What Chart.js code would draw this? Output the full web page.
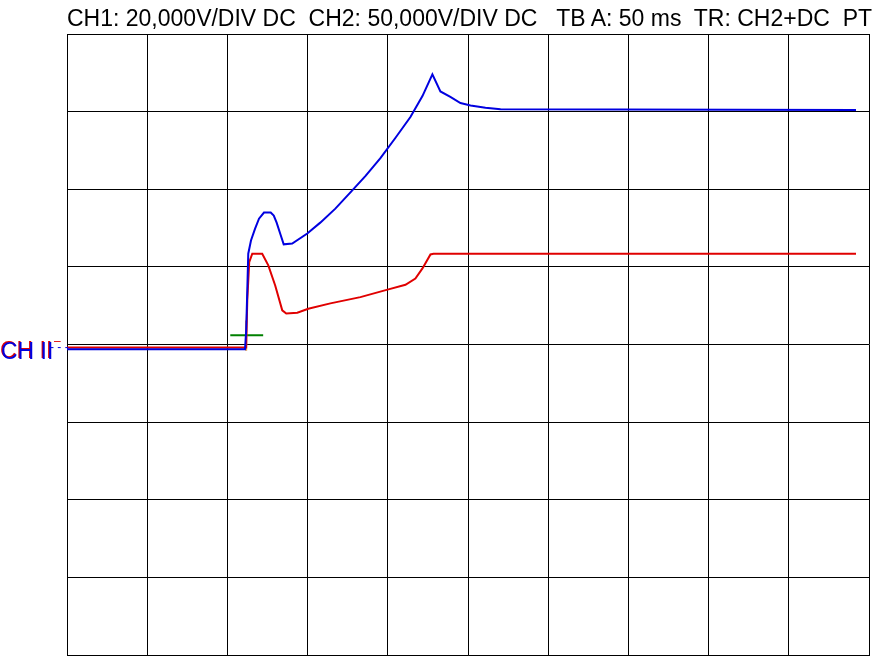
<!DOCTYPE html>
<html>
<head>
<meta charset="utf-8">
<script src="https://cdn.jsdelivr.net/npm/chart.js@4/dist/chart.umd.min.js"></script>
<style>
  body { margin: 0; background: #fff; }
  #wrap { position: relative; width: 877px; height: 663px; overflow: hidden; }
  #title { position: absolute; left: 67px; top: 5px; font: 23px "Liberation Sans", Arial, sans-serif;
           white-space: pre; color: #000; }
  .ch { position: absolute; left: 0; top: 337px; font: 23px "Liberation Sans Narrow", "Liberation Sans", sans-serif; white-space: pre; }
  .lv { position: absolute; font: 12px "Liberation Sans", sans-serif; white-space: pre; }
</style>
</head>
<body>
<div id="wrap">
  <canvas id="myChart" width="877" height="663"></canvas>
  <div id="title">CH1: 20,000V/DIV DC  CH2: 50,000V/DIV DC   TB A: 50 ms  TR: CH2+DC  PT</div>
  <div class="ch" style="color:#e00000">CH II</div>
  <div class="ch" style="color:#0000e0;left:1px;top:338px">CH II</div>
  <div class="lv" style="color:#e00000;left:54px;top:334px">–</div>
  <div class="lv" style="color:#0000e0;left:50px;top:340px">- - -</div>
</div>
<script>
// time in ms (50 ms/div), level in divisions
var blueT = [0, 111, 111.7, 112.4, 113, 114.7, 117.2, 119.7, 122.8, 127, 128.9, 130.7, 133.2, 135.1, 140.4, 149.8, 157.9, 167.3, 176.7, 186, 195.4, 204.7, 214.1, 221.6, 227.8, 232.8, 239, 245.3, 251.6, 260.9, 270.3, 491.9];
var blueV = [-0.06, -0.06, 0.18, 0.70, 1.17, 1.34, 1.49, 1.62, 1.70, 1.70, 1.66, 1.57, 1.41, 1.29, 1.30, 1.43, 1.57, 1.75, 1.96, 2.17, 2.40, 2.66, 2.93, 3.20, 3.48, 3.26, 3.19, 3.11, 3.08, 3.05, 3.03, 3.02];
var redT = [0, 111.7, 112.4, 113.6, 115.5, 121.7, 125.5, 129.8, 134.2, 136.7, 143.6, 150.4, 164.2, 182.9, 200.4, 211, 217.2, 221.6, 226.6, 228.5, 491.9];
var redV = [-0.04, -0.04, 0.57, 1.06, 1.17, 1.17, 1.02, 0.76, 0.44, 0.40, 0.41, 0.46, 0.53, 0.61, 0.71, 0.77, 0.85, 0.98, 1.16, 1.17, 1.17];
var trigT = [101.8, 122.3];
var trigV = [0.12, 0.12];
var markT = [111.7, 111.7];
var markV = [0.31, -0.08];

function pts(t, v) {
  return t.map(function (e, i) { return {x: e, y: v[i]}; });
}

var ctx = document.getElementById('myChart').getContext('2d');
var myChart = new Chart(ctx, {
  type: 'line',
  data: {
    datasets: [
      { label: 'CH1', data: pts(blueT, blueV), borderColor: '#0000e0', borderWidth: 2, pointRadius: 0, order: 0 },
      { label: 'CH2', data: pts(redT, redV), borderColor: '#e00000', borderWidth: 2, pointRadius: 0, order: 1 },
      { label: 'trig', data: pts(markT, markV), borderColor: '#e0a050', borderWidth: 2, pointRadius: 0, order: 2 },
      { label: 'level', data: pts(trigT, trigV), borderColor: '#008000', borderWidth: 2, pointRadius: 0, order: 3 }
    ]
  },
  options: {
    responsive: false,
    animation: false,
    layout: { padding: { left: 67, top: 34, right: 8, bottom: 8 } },
    plugins: { legend: { display: false }, tooltip: { enabled: false } },
    scales: {
      x: {
        type: 'linear', min: 0, max: 500,
        ticks: { display: false, stepSize: 50 },
        grid: { color: '#000', lineWidth: 1, drawTicks: false },
        border: { color: '#000', width: 1 }
      },
      y: {
        min: -4, max: 4,
        ticks: { display: false, stepSize: 1 },
        grid: { color: '#000', lineWidth: 1, drawTicks: false },
        border: { color: '#000', width: 1 }
      }
    }
  }
});
</script>
</body>
</html>
